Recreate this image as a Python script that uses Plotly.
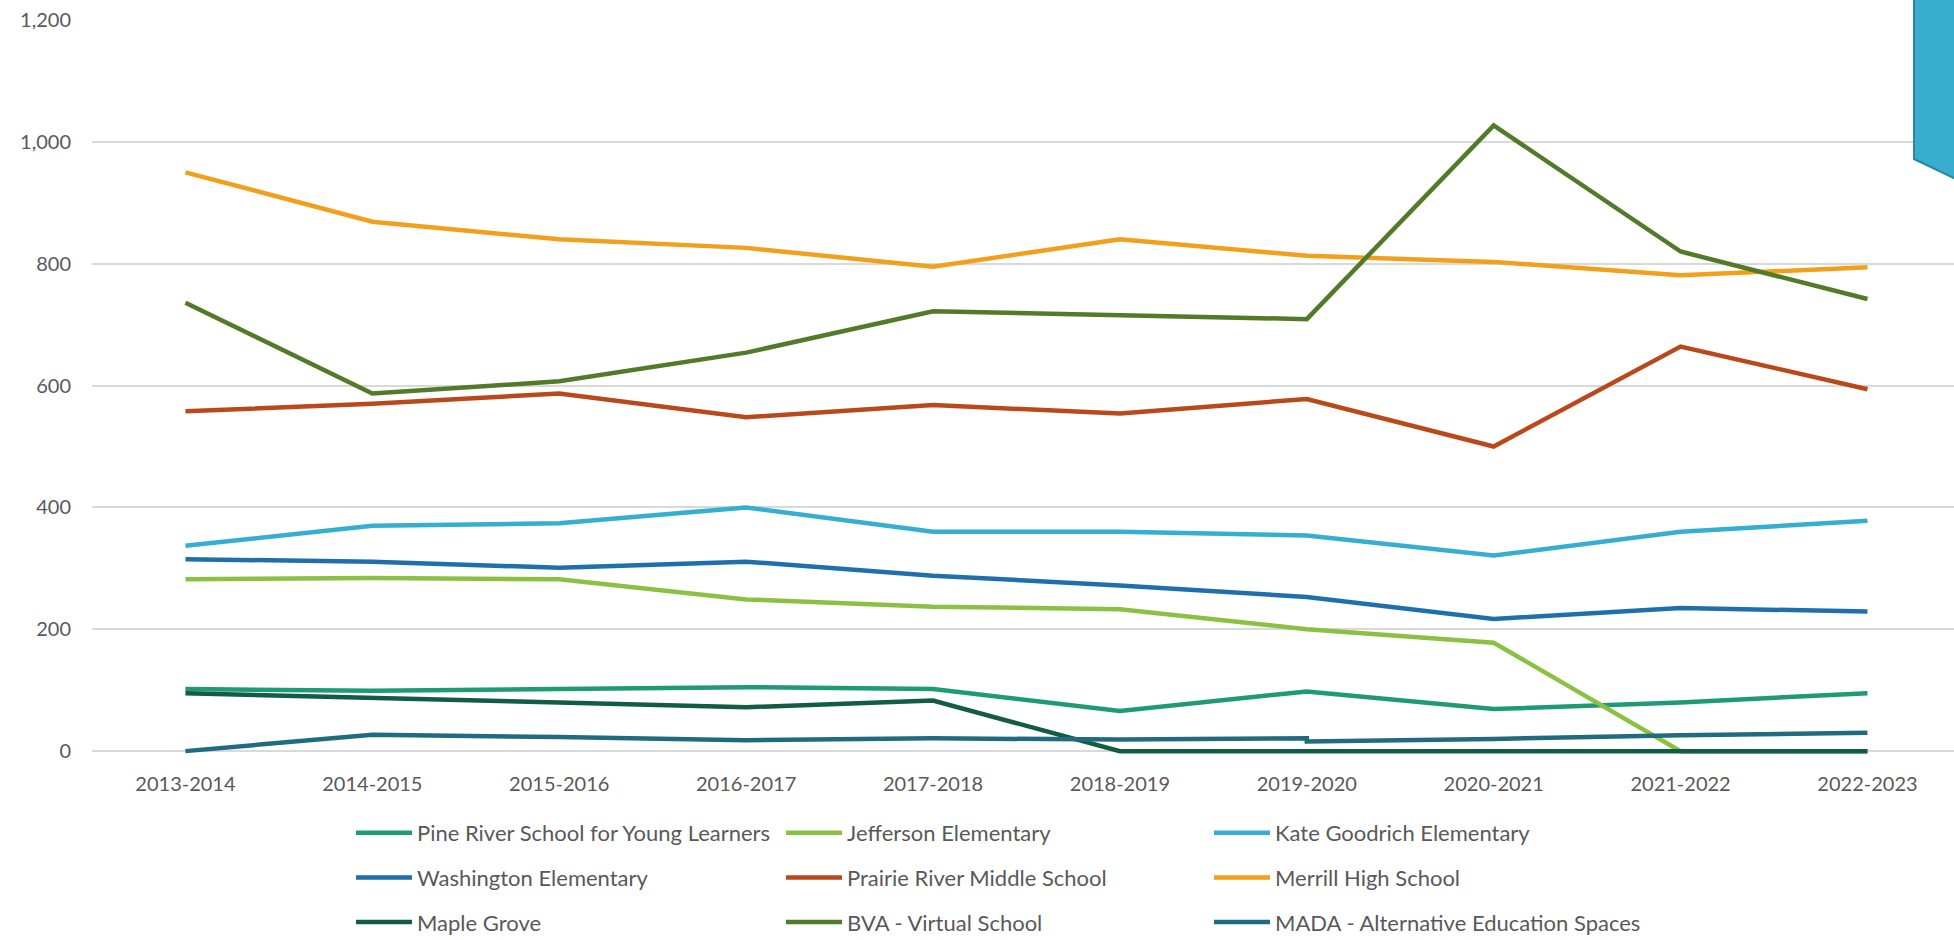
import plotly.graph_objects as go

years = ["2013-2014", "2014-2015", "2015-2016", "2016-2017", "2017-2018",
         "2018-2019", "2019-2020", "2020-2021", "2021-2022", "2022-2023"]

pine_river = [102, 99, 102, 105, 102, 66, 98, 69, 80, 95]
jefferson = [282, 284, 282, 249, 237, 233, 200, 178, 0, 0]
kate_goodrich = [337, 370, 374, 400, 360, 360, 354, 321, 360, 378]
washington = [315, 311, 301, 311, 288, 272, 253, 217, 235, 229]
prairie_river = [558, 570, 587, 548, 568, 554, 578, 500, 664, 594]
merrill = [950, 869, 840, 826, 795, 840, 813, 803, 781, 794]
maple_grove = [95, 88, 80, 72, 83, 0, 0, 0, 0, 0]
bva = [736, 587, 607, 654, 722, 715, 709, 1027, 820, 742]
mada_years = ["2013-2014", "2014-2015", "2015-2016", "2016-2017", "2017-2018",
              "2018-2019", "2019-2020", "2019-2020", "2020-2021", "2021-2022", "2022-2023"]
mada = [0, 27, 23, 18, 21, 19, 21, 16, 20, 26, 30]

series = [
    ("Pine River School for Young Learners", years, pine_river, "#1F9A77", "legend"),
    ("Jefferson Elementary", years, jefferson, "#8BC143", "legend2"),
    ("Kate Goodrich Elementary", years, kate_goodrich, "#35AFCF", "legend3"),
    ("Washington Elementary", years, washington, "#1F6FAD", "legend"),
    ("Prairie River Middle School", years, prairie_river, "#B9491B", "legend2"),
    ("Merrill High School", years, merrill, "#F29F1C", "legend3"),
    ("Maple Grove", years, maple_grove, "#125B45", "legend"),
    ("BVA - Virtual School", years, bva, "#537A28", "legend2"),
    ("MADA - Alternative Education Spaces", mada_years, mada, "#206B80", "legend3"),
]

FONT = "Lato, Carlito, Calibri, sans-serif"
TXT = "#595959"

fig = go.Figure()
for name, xs, ys, color, lg in series:
    fig.add_trace(go.Scatter(
        x=xs, y=ys, name=name, mode="lines",
        line=dict(color=color, width=4.5),
        legend=lg, legendgroup=name,
    ))

W, H = 1954, 940
ML, MR, MT, MB = 92, 0, 20, 184

def px_to_paper_x(px):
    return (px - ML) / (W - ML - MR)

def px_to_paper_y(py):
    return (H - MB - py) / (H - MT - MB)

leg_common = dict(
    orientation="v", yanchor="top", xanchor="left",
    font=dict(family=FONT, size=22, color=TXT),
    bgcolor="rgba(0,0,0,0)", itemwidth=56, tracegroupgap=13,
)

fig.update_layout(
    width=W, height=H,
    margin=dict(l=ML, r=MR, t=MT, b=MB, pad=0, autoexpand=False),
    paper_bgcolor="white", plot_bgcolor="white",
    font=dict(family=FONT, color=TXT),
    showlegend=True,
    legend=dict(x=px_to_paper_x(351), y=px_to_paper_y(812), **leg_common),
    legend2=dict(x=px_to_paper_x(781), y=px_to_paper_y(812), **leg_common),
    legend3=dict(x=px_to_paper_x(1209), y=px_to_paper_y(812), **leg_common),
    xaxis=dict(
        type="category", categoryorder="array", categoryarray=years,
        range=[-0.5, 9.463], showgrid=False, zeroline=False, showline=False,
        ticks="", tickfont=dict(family=FONT, size=20, color=TXT),
        ticklabelstandoff=14,
    ),
    yaxis=dict(
        range=[-8, 1200], tickvals=[0, 200, 400, 600, 800, 1000, 1200],
        tickformat=",d", showgrid=True, gridcolor="#D9D9D9", gridwidth=1.5,
        zeroline=False, showline=False, ticks="",
        tickfont=dict(family=FONT, size=20, color=TXT),
        ticklabelstandoff=20,
    ),
    shapes=[dict(
        type="path", xref="paper", yref="paper",
        path="M {x0},{y0} L {x0},{y1} L {x2},{y2} L {x2},{y0} Z".format(
            x0=px_to_paper_x(1914), y0=px_to_paper_y(-5),
            y1=px_to_paper_y(159), x2=px_to_paper_x(1960), y2=px_to_paper_y(181)),
        fillcolor="#37AECE", line=dict(color="#2A87A5", width=2), layer="above",
    )],
)

fig.write_html("out.html")
